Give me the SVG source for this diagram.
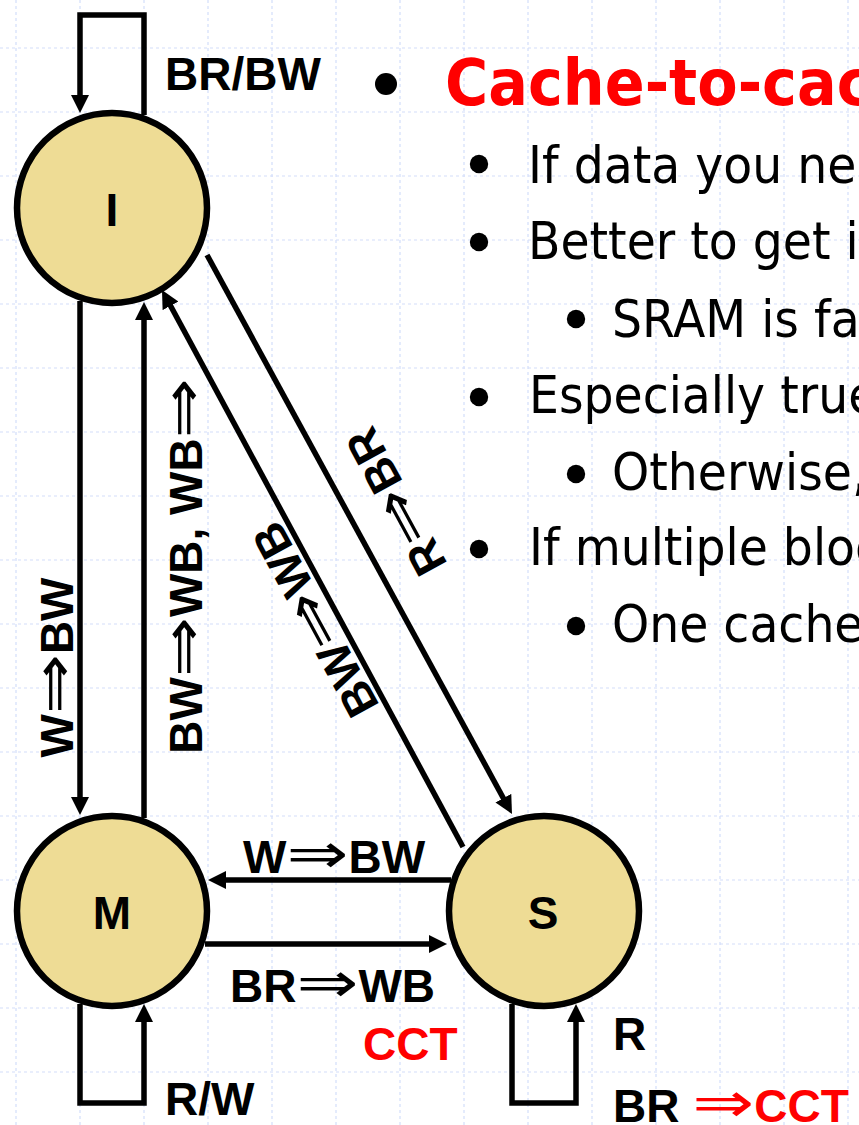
<svg xmlns="http://www.w3.org/2000/svg" width="859" height="1125" viewBox="0 0 859 1125">
<style>
.grid line{stroke:#d3defa;stroke-width:1.2;stroke-dasharray:3 3}
.node circle{fill:#EEDC95;stroke:#000;stroke-width:6.5}
.nl{font-family:"Liberation Sans",Arial,sans-serif;font-weight:bold;font-size:46px;text-anchor:middle;fill:#000}
.edges path{fill:none;stroke:#000;stroke-width:5.5;stroke-linejoin:miter;marker-end:url(#ah)}
.lbl{font-family:"Liberation Sans",Arial,sans-serif;font-weight:bold;font-size:46px;fill:#000}
.red{fill:#ff0000}
.arr{font-family:"DejaVu Sans",sans-serif;font-weight:normal;font-size:56px}
.b1{font-family:"DejaVu Sans",sans-serif;font-size:52px;fill:#000}
.title{font-family:"DejaVu Sans",sans-serif;font-weight:bold;font-size:64px;fill:#ff0000}
</style>
<defs>
<marker id="ah" markerUnits="userSpaceOnUse" viewBox="0 0 18 18" refX="8" refY="9" markerWidth="18" markerHeight="18" orient="auto">
<path d="M0,0 L18,9 L0,18 z" fill="#000"/>
</marker>
</defs>
<rect width="859" height="1125" fill="#fff"/>
<g class="grid">
<line x1="16" y1="0" x2="16" y2="1125"/><line x1="80" y1="0" x2="80" y2="1125"/><line x1="144" y1="0" x2="144" y2="1125"/><line x1="208" y1="0" x2="208" y2="1125"/><line x1="272" y1="0" x2="272" y2="1125"/><line x1="336" y1="0" x2="336" y2="1125"/><line x1="400" y1="0" x2="400" y2="1125"/><line x1="464" y1="0" x2="464" y2="1125"/><line x1="528" y1="0" x2="528" y2="1125"/><line x1="592" y1="0" x2="592" y2="1125"/><line x1="656" y1="0" x2="656" y2="1125"/><line x1="720" y1="0" x2="720" y2="1125"/><line x1="784" y1="0" x2="784" y2="1125"/><line x1="848" y1="0" x2="848" y2="1125"/>
<line x1="0" y1="48" x2="859" y2="48"/><line x1="0" y1="112" x2="859" y2="112"/><line x1="0" y1="176" x2="859" y2="176"/><line x1="0" y1="240" x2="859" y2="240"/><line x1="0" y1="304" x2="859" y2="304"/><line x1="0" y1="368" x2="859" y2="368"/><line x1="0" y1="432" x2="859" y2="432"/><line x1="0" y1="496" x2="859" y2="496"/><line x1="0" y1="560" x2="859" y2="560"/><line x1="0" y1="624" x2="859" y2="624"/><line x1="0" y1="688" x2="859" y2="688"/><line x1="0" y1="752" x2="859" y2="752"/><line x1="0" y1="816" x2="859" y2="816"/><line x1="0" y1="880" x2="859" y2="880"/><line x1="0" y1="944" x2="859" y2="944"/><line x1="0" y1="1008" x2="859" y2="1008"/><line x1="0" y1="1072" x2="859" y2="1072"/>
</g>
<g id="bullets">
<circle cx="386" cy="84" r="11"/>
<text class="title" transform="translate(445,105) scale(0.92,1)">Cache-to-cac</text>
<circle cx="479" cy="164" r="9.2"/>
<text class="b1" transform="translate(528,183) scale(0.91,1)">If data you ne</text>
<circle cx="479" cy="242" r="9.2"/>
<text class="b1" transform="translate(528,259) scale(0.91,1)">Better to get it</text>
<circle cx="576" cy="319" r="9.2"/>
<text class="b1" transform="translate(612,337) scale(0.91,1)">SRAM is fa</text>
<circle cx="479" cy="397" r="9.2"/>
<text class="b1" transform="translate(529,413) scale(0.91,1)">Especially true</text>
<circle cx="576" cy="474" r="9.2"/>
<text class="b1" transform="translate(612,490) scale(0.91,1)">Otherwise,</text>
<circle cx="479" cy="549" r="9.2"/>
<text class="b1" transform="translate(529,565) scale(0.91,1)">If multiple bloc</text>
<circle cx="576" cy="626" r="9.2"/>
<text class="b1" transform="translate(612,642) scale(0.91,1)">One cache</text>
</g>
<g class="edges">
<path d="M144,115 V15 H80 V103"/>
<path d="M80,301 V805"/>
<path d="M144,818 V312"/>
<path d="M207,255 L507.2,805.2"/>
<path d="M463,847 L166.75,298.8"/>
<path d="M451,880 H218"/>
<path d="M205,944 H437"/>
<path d="M80,1004 V1103 H144 V1014"/>
<path d="M512,1004 V1103 H576 V1014"/>
</g>
<g id="labels">
<text class="lbl" x="165" y="90">BR/BW</text>
<text class="lbl" text-anchor="middle" transform="translate(73,667.5) rotate(-90)">W<tspan class="arr" textLength="60" lengthAdjust="spacingAndGlyphs">⇒</tspan>BW</text>
<text class="lbl" text-anchor="middle" transform="translate(202,566) rotate(-90)">BW<tspan class="arr" textLength="60" lengthAdjust="spacingAndGlyphs">⇒</tspan>WB, WB<tspan class="arr" textLength="60" lengthAdjust="spacingAndGlyphs">⇒</tspan></text>
<text class="lbl" text-anchor="middle" transform="translate(410,494) rotate(-118.5)">R<tspan class="arr" textLength="60" lengthAdjust="spacingAndGlyphs">⇒</tspan>BR</text>
<text class="lbl" text-anchor="middle" transform="translate(329,612) rotate(-118.5)">BW<tspan class="arr" textLength="60" lengthAdjust="spacingAndGlyphs">⇒</tspan>WB</text>
<text class="lbl" x="243" y="873">W<tspan class="arr" textLength="62" lengthAdjust="spacingAndGlyphs">⇒</tspan>BW</text>
<text class="lbl" x="230" y="1002">BR<tspan class="arr" textLength="62" lengthAdjust="spacingAndGlyphs">⇒</tspan>WB</text>
<text class="lbl red" x="363" y="1060">CCT</text>
<text class="lbl" x="165" y="1115">R/W</text>
<text class="lbl" x="613" y="1050">R</text>
<text class="lbl" x="613" y="1122">BR <tspan class="red"><tspan class="arr" textLength="62" lengthAdjust="spacingAndGlyphs">⇒</tspan>CCT</tspan></text>
</g>
<g id="node-I" class="node"><circle cx="112" cy="208" r="95"/><text class="nl" x="112" y="226">I</text></g>
<g id="node-M" class="node"><circle cx="112" cy="911" r="95"/><text class="nl" x="112" y="929">M</text></g>
<g id="node-S" class="node"><circle cx="544" cy="911" r="95"/><text class="nl" x="543" y="929">S</text></g>
</svg>
